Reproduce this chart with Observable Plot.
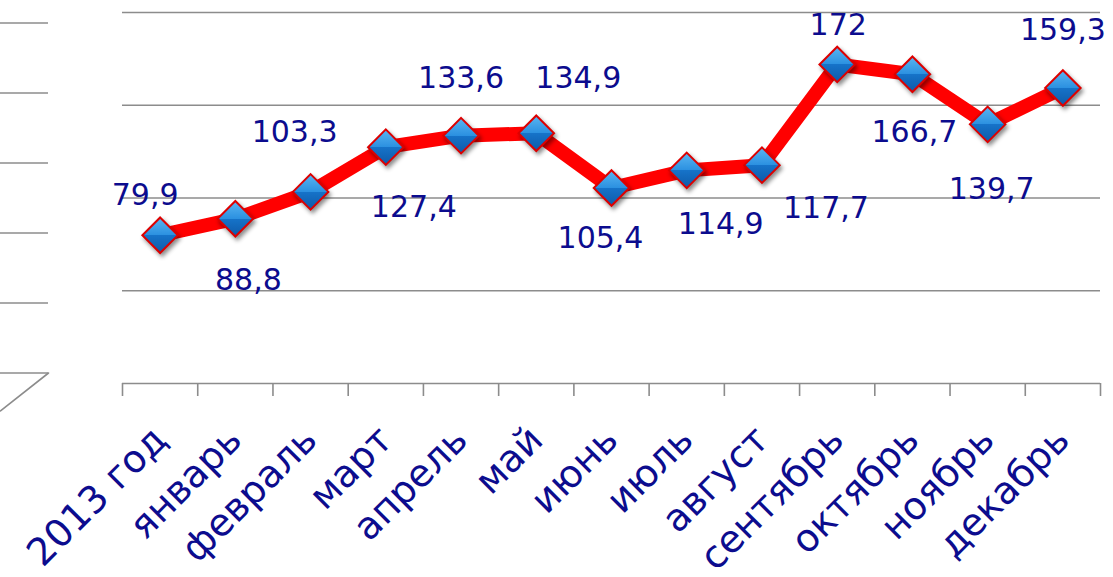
<!DOCTYPE html>
<html>
<head>
<meta charset="utf-8">
<script src="https://cdn.jsdelivr.net/npm/d3@7"></script>
<script src="https://cdn.jsdelivr.net/npm/@observablehq/plot@0.6"></script>
<style>
  html, body { margin: 0; padding: 0; background: #ffffff; }
  #wrap { position: relative; width: 1113px; height: 577px; overflow: hidden; }
  #wrap svg { position: absolute; left: 0; top: 0; overflow: visible; }
</style>
</head>
<body>
<div id="wrap"></div>
<script>
// ---- data ----
const categories = ["2013 год", "январь", "февраль", "март", "апрель", "май", "июнь", "июль", "август", "сентябрь", "октябрь", "ноябрь", "декабрь"];
const values = [79.9, 88.8, 103.3, 127.4, 133.6, 134.9, 105.4, 114.9, 117.7, 172, 166.7, 139.7, 159.3];
const valueLabels = ["79,9", "88,8", "103,3", "127,4", "133,6", "134,9", "105,4", "114,9", "117,7", "172", "166,7", "139,7", "159,3"];
const gridValues = [50, 100, 150, 200];
const wallLevels = [0, 50, 100, 150, 200, 250];

// ---- layout (label nudges, px) ----
const labelNudgeX = [-15, 13, -16, 28, 0, 42, -11, 34, 64, 1, 2, 4, 0];
const labelNudgeY = [-40, 62, -59, 60, -57, -55, 50, 54, 43, -39, 58, 65, -58];

const rows = categories.map((c, i) => ({i, cat: c, value: values[i], label: valueLabels[i], ndx: labelNudgeX[i], ndy: labelNudgeY[i]}));
const centers = categories.map((c, i) => i);
const edges = d3.range(categories.length + 1).map(i => i - 0.5);

const textColor = "#0c0c8e";
const gridColor = "#8c8c8c";
const font = "'DejaVu Sans', Verdana, sans-serif";

const main = Plot.plot({
  width: 1113,
  height: 577,
  marginLeft: 122,
  marginRight: 13,
  marginTop: 12,
  marginBottom: 194,
  style: {fontFamily: font, background: "transparent", overflow: "visible"},
  x: {type: "linear", domain: [-0.5, categories.length - 0.5], axis: null},
  y: {domain: [0, 200], axis: null},
  marks: [
    Plot.ruleY(gridValues, {stroke: gridColor, strokeWidth: 1.6}),
    Plot.ruleY([0], {stroke: gridColor, strokeWidth: 1.6}),
    Plot.axisX(edges, {tickSize: 13, tickFormat: () => "", label: null, stroke: gridColor, strokeWidth: 1.6, strokeOpacity: 1}),
    Plot.axisX(centers, {tickSize: 0, tickPadding: 50, tickRotate: -45, fontSize: 38, fill: textColor, label: null, tickFormat: i => categories[i], dx: 0}),
    Plot.line(rows, {x: "i", y: "value", stroke: "#ff0000", strokeWidth: 14, strokeLinejoin: "round", style: "filter: drop-shadow(2px 3px 2px rgba(0,0,0,0.25))"}),
    Plot.dot(rows, {x: "i", y: "value", symbol: "diamond2", r: 16, fill: "url(#diamondGrad)", stroke: "#dd0000", strokeWidth: 2, fillOpacity: 1}),
    Plot.text(rows, {x: "i", y: "value", text: "label", fontSize: 30, fill: textColor, textAnchor: "middle", lineAnchor: "middle"})
  ]
});

// gradient for the diamonds, shadows and per-label nudges
const svgSel = d3.select(main);
const defs = svgSel.insert("defs", ":first-child");
const g = defs.append("linearGradient").attr("id", "diamondGrad").attr("x1", 0).attr("y1", 0).attr("x2", 0).attr("y2", 1);
g.append("stop").attr("offset", "0").attr("stop-color", "#5ab6f2");
g.append("stop").attr("offset", "0.5").attr("stop-color", "#2b90e0");
g.append("stop").attr("offset", "0.5").attr("stop-color", "#1673c9");
g.append("stop").attr("offset", "1").attr("stop-color", "#0e5aa8");

svgSel.selectAll("g[aria-label='dot'] path").style("filter", "drop-shadow(2px 3px 2px rgba(0,0,0,0.45))");
svgSel.selectAll("g[aria-label='text'] text").each(function(d, k) {
  const el = d3.select(this);
  const cur = el.attr("transform") || "";
  el.attr("transform", cur + ` translate(${rows[k].ndx},${rows[k].ndy})`);
});

// left "wall" edge of the 3D frame
const wall = Plot.plot({
  width: 50,
  height: 577,
  marginLeft: 0,
  marginRight: 2,
  marginTop: 22.5,
  marginBottom: 204.5,
  style: {background: "transparent", overflow: "visible"},
  x: {domain: [0, 1], axis: null},
  y: {domain: [0, 250], axis: null},
  marks: [
    Plot.ruleY(wallLevels, {x1: 0, x2: 1, stroke: gridColor, strokeWidth: 1.6}),
    Plot.line([{d: 0, v: -27}, {d: 1, v: 0}], {x: "d", y: "v", stroke: gridColor, strokeWidth: 1.6, clip: false})
  ]
});

const wrap = document.getElementById("wrap");
wrap.appendChild(wall);
wrap.appendChild(main);
</script>
</body>
</html>
